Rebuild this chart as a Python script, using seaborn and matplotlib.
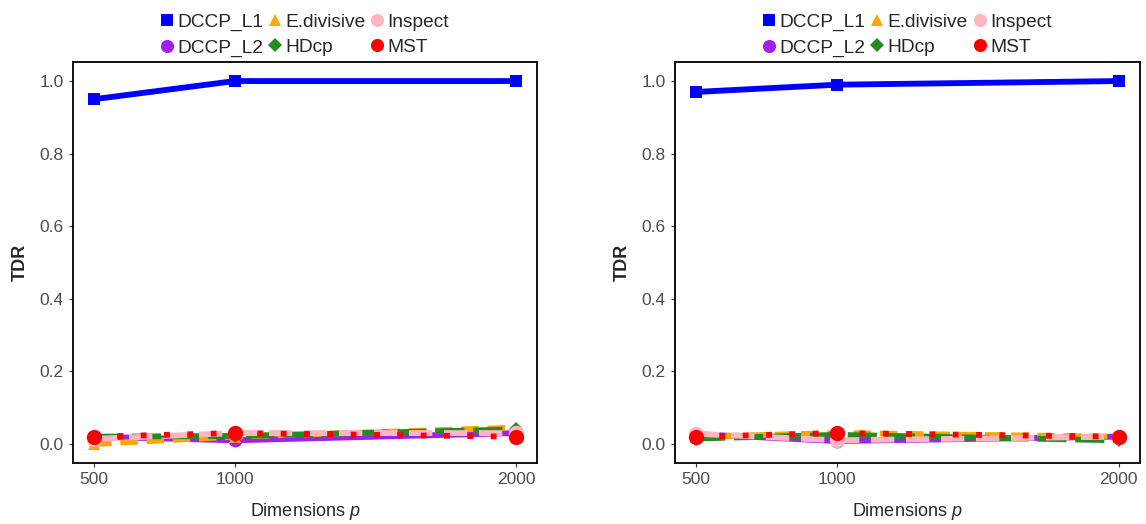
import numpy as np
import pandas as pd
import matplotlib
matplotlib.use("Agg")
import matplotlib.pyplot as plt
from matplotlib.lines import Line2D
import seaborn as sns

sns.set_style("white")
plt.rcParams["font.family"] = ["Liberation Sans", "DejaVu Sans"]
plt.rcParams["mathtext.fontset"] = "custom"
plt.rcParams["mathtext.it"] = "Liberation Sans:italic"

dims = [500, 1000, 2000]
methods = ["DCCP_L1", "DCCP_L2", "E.divisive", "HDcp", "Inspect", "MST"]

# TDR per method, left panel
left_l1 = [0.95, 1.00, 1.00]
left_l2 = [0.02, 0.01, 0.03]
left_ediv = [0.00, 0.02, 0.045]
left_hdcp = [0.02, 0.022, 0.04]
left_insp = [0.014, 0.03, 0.03]
left_mst = [0.02, 0.03, 0.02]

# TDR per method, right panel
right_l1 = [0.97, 0.99, 1.00]
right_l2 = [0.027, 0.008, 0.02]
right_ediv = [0.02, 0.03, 0.02]
right_hdcp = [0.015, 0.025, 0.01]
right_insp = [0.028, 0.01, 0.02]
right_mst = [0.02, 0.03, 0.02]

palette = {"DCCP_L1": "#0000FF", "DCCP_L2": "#A020F0", "E.divisive": "#FFA500",
           "HDcp": "#228B22", "Inspect": "#FFB6C1", "MST": "#FF0000"}
markers = {"DCCP_L1": "s", "DCCP_L2": "o", "E.divisive": "^",
           "HDcp": "D", "Inspect": "o", "MST": "o"}
line_marker_size = {"DCCP_L1": 9, "DCCP_L2": 10, "E.divisive": 9,
                    "HDcp": 7, "Inspect": 11, "MST": 11}
legend_marker_size = {"DCCP_L1": 9, "DCCP_L2": 9.5, "E.divisive": 9,
                      "HDcp": 7, "Inspect": 9.5, "MST": 9.5}
dashes = {"DCCP_L1": "", "DCCP_L2": "", "E.divisive": (3, 1.5),
          "HDcp": (5, 1.5), "Inspect": (4, 2), "MST": (1, 3)}


def frame(l1, l2, ediv, hdcp, insp, mst):
    rows = []
    for name, vals in zip(methods, [l1, l2, ediv, hdcp, insp, mst]):
        for d, v in zip(dims, vals):
            rows.append({"p": d, "TDR": v, "Method": name})
    return pd.DataFrame(rows)


fig = plt.figure(figsize=(11.46, 5.24), dpi=100)
W, H = 1146, 524
ax_left = fig.add_axes([73 / W, 1 - 463 / H, (537 - 73) / W, (463 - 62) / H])
ax_right = fig.add_axes([675 / W, 1 - 463 / H, (1140 - 675) / W, (463 - 62) / H])

panels = [(ax_left, frame(left_l1, left_l2, left_ediv, left_hdcp, left_insp, left_mst)),
          (ax_right, frame(right_l1, right_l2, right_ediv, right_hdcp, right_insp, right_mst))]

draw_order = ["DCCP_L2", "E.divisive", "HDcp", "Inspect", "MST", "DCCP_L1"]

for ax, df in panels:
    for m in draw_order:
        sub = df[df["Method"] == m]
        sns.lineplot(data=sub, x="p", y="TDR", ax=ax, color=palette[m],
                     marker=markers[m], markersize=line_marker_size[m],
                     markeredgewidth=0, linewidth=4.2, legend=False,
                     dashes=False)
        line = ax.lines[-1]
        if dashes[m]:
            line.set_dashes(dashes[m])
    ax.set_xlim(425, 2075)
    ax.set_ylim(-0.0525, 1.0525)
    ax.set_xticks(dims)
    ax.set_yticks([0, 0.2, 0.4, 0.6, 0.8, 1.0])
    ax.set_yticklabels(["0.0", "0.2", "0.4", "0.6", "0.8", "1.0"])
    ax.tick_params(axis="both", labelsize=12.5, labelcolor="#4D4D4D",
                   length=3, width=0.8, color="#333333", left=True, bottom=True)
    for s in ax.spines.values():
        s.set_color("black")
        s.set_linewidth(1.3)
    ax.set_xlabel("Dimensions $\\it{p}$", fontsize=13, labelpad=10)
    ax.set_ylabel("TDR", fontsize=13, fontweight="bold", labelpad=8)

    handles = [Line2D([], [], linestyle="none", marker=markers[m], color=palette[m],
                      markersize=legend_marker_size[m], markeredgewidth=0)
               for m in methods]
    ax.legend(handles, methods, loc="lower center", bbox_to_anchor=(0.5, 0.985),
              ncol=3, frameon=False, fontsize=13.8, handlelength=0.6,
              handletextpad=0.25, columnspacing=0.3, labelspacing=0.4,
              borderaxespad=0.2)

fig.savefig("out.png", dpi=100)
